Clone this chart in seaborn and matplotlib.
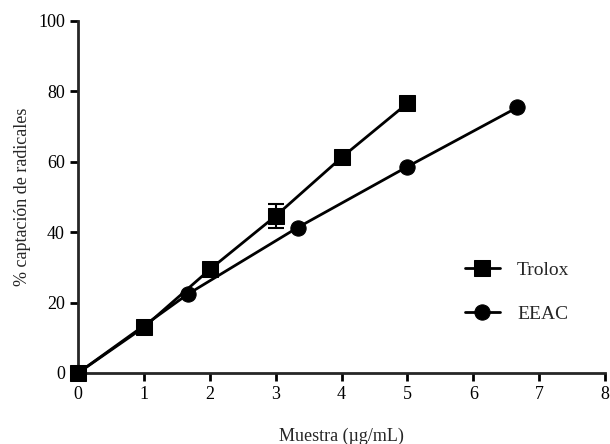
import seaborn as sns
import matplotlib.pyplot as plt
import pandas as pd
import numpy as np

# Data
trolox_x = [0, 1, 2, 3, 4, 5]
trolox_y = [0, 13.0, 29.4, 44.6, 61.2, 76.6]
trolox_err = [0, 0, 0, 3.4, 0, 0]

eeac_x = [0, 1.667, 3.333, 5.0, 6.667]
eeac_y = [0, 22.4, 41.3, 58.6, 75.4]

sns.set_style("ticks")
plt.rcParams['font.family'] = ['Liberation Serif', 'DejaVu Serif']

df = pd.concat([
    pd.DataFrame({'x': trolox_x, 'y': trolox_y, 'Serie': 'Trolox'}),
    pd.DataFrame({'x': eeac_x, 'y': eeac_y, 'Serie': 'EEAC'}),
])

fig = plt.figure(figsize=(6.1, 4.44), dpi=100)
ax = fig.add_axes([0.128, 0.16, 0.864, 0.793])

sns.lineplot(data=df, x='x', y='y', style='Serie', markers={'Trolox': 's', 'EEAC': 'o'},
             dashes=False, color='black', linewidth=2, markersize=11,
             markeredgecolor='black', ax=ax, clip_on=False, zorder=3)

# error bar on the Trolox series
ax.errorbar(trolox_x, trolox_y, yerr=trolox_err, fmt='none', ecolor='black',
            elinewidth=1.5, capsize=6, capthick=1.5, zorder=4)

ax.set_xlim(0, 8)
ax.set_ylim(0, 100)
ax.set_xticks(range(0, 9))
ax.set_yticks(range(0, 101, 20))
sns.despine(ax=ax)
for s in ['left', 'bottom']:
    ax.spines[s].set_linewidth(2)
ax.tick_params(width=2, length=6, labelsize=13, colors='black')

ax.set_xlabel('Muestra (µg/mL)', fontsize=13, labelpad=18)
ax.set_ylabel('% captación de radicales', fontsize=13, labelpad=5)

leg = ax.legend(loc='center left', bbox_to_anchor=(0.70, 0.23), frameon=False,
                fontsize=14, handlelength=1.8, handletextpad=0.9,
                labelspacing=1.35, markerscale=1.0)
leg.set_title(None)

fig.savefig('out.png', dpi=100)
